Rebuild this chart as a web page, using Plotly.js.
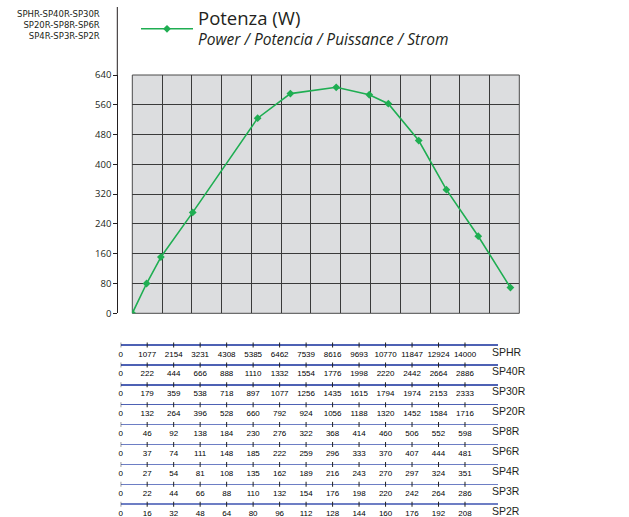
<!DOCTYPE html>
<html>
<head>
<meta charset="utf-8">
<script src="https://cdn.plot.ly/plotly-3.0.1.min.js"></script>
<style>html,body{margin:0;padding:0;background:#fff;}#chart{width:629px;height:517px;}</style>
</head>
<body>
<div id="chart"></div>
<script>
// ---- data ----
const models = ['SPHR','SP40R','SP30R','SP20R','SP8R','SP6R','SP4R','SP3R','SP2R'];
const sphr  = [0,1077,2154,3231,4308,5385,6462,7539,8616,9693,10770,11847,12924,14000];
const sp40r = [0,222,444,666,888,1110,1332,1554,1776,1998,2220,2442,2664,2886];
const sp30r = [0,179,359,538,718,897,1077,1256,1435,1615,1794,1974,2153,2333];
const sp20r = [0,132,264,396,528,660,792,924,1056,1188,1320,1452,1584,1716];
const sp8r  = [0,46,92,138,184,230,276,322,368,414,460,506,552,598];
const sp6r  = [0,37,74,111,148,185,222,259,296,333,370,407,444,481];
const sp4r  = [0,27,54,81,108,135,162,189,216,243,270,297,324,351];
const sp3r  = [0,22,44,66,88,110,132,154,176,198,220,242,264,286];
const sp2r  = [0,16,32,48,64,80,96,112,128,144,160,176,192,208];
// flow on the SPHR scale and power (W)
const flowSPHR = [0,517,1034,2186,4534,5719,7377,8573,9262,10361,11362,12515,13678];
const powerW   = [0,80,151,271,524,590,607,587,563,464,332,207,69];
const yTicks   = [0,80,160,240,320,400,480,560,640];
const legendMain = 'Potenza (W)';
const legendSub  = 'Power / Potencia / Puissance / Strom';
const modelGroups = ['SPHR-SP40R-SP30R','SP20R-SP8R-SP6R','SP4R-SP3R-SP2R'];

const scales = [sphr,sp40r,sp30r,sp20r,sp8r,sp6r,sp4r,sp3r,sp2r];

// ---- layout helpers ----
const W = 629, H = 517;
const px = v => v / W;
const py = v => 1 - v / H;
const FONT = 'Open Sans, Noto Sans, sans-serif';
const SCALEFONT = 'Liberation Sans, Arial, sans-serif';
const TXT = '#231f20';

const traces = [{
  x: flowSPHR, y: powerW, type: 'scatter', mode: 'lines+markers',
  name: '<span style="font-size:18.5px">' + legendMain + '</span><br><span style="font-size:15.5px"><i>' + legendSub + '</i></span>',
  line: {color: '#1fae52', width: 1.6},
  marker: {symbol: 'diamond', size: 6, color: '#1fae52'},
  xaxis: 'x', yaxis: 'y', hoverinfo: 'skip'
}];

const layout = {
  width: W, height: H,
  margin: {l: 0, r: 0, t: 0, b: 0},
  paper_bgcolor: '#fff', plot_bgcolor: 'rgba(0,0,0,0)',
  font: {family: FONT, color: TXT},
  showlegend: true,
  legend: {x: px(136), y: py(1.5), xanchor: 'left', yanchor: 'top',
           bgcolor: 'rgba(0,0,0,0)', font: {family: FONT, size: 16, color: TXT},
           itemwidth: 52, tracegroupgap: 0},
  xaxis: {domain: [px(132.3), px(519.3)], range: [0, 14000], anchor: 'y',
          tickmode: 'array', tickvals: sphr, showticklabels: false, ticks: '',
          showgrid: true, gridcolor: '#3a3a3a', gridwidth: 1, zeroline: false, showline: false},
  yaxis: {domain: [py(313.3), py(75)], range: [0, 640], anchor: 'free', position: px(117.3),
          tickmode: 'array', tickvals: yTicks, ticks: 'outside', ticklen: 4, tickcolor: TXT,
          showline: true, linecolor: TXT, linewidth: 1,
          showgrid: true, gridcolor: '#3a3a3a', gridwidth: 1, zeroline: false,
          tickfont: {family: FONT, size: 9.5, color: TXT}},
  shapes: [
    {type: 'rect', xref: 'x domain', yref: 'y domain', x0: 0, x1: 1, y0: 0, y1: 1,
     fillcolor: '#dcdddf', line: {color: '#4a4a4a', width: 1}, layer: 'below'},
    {type: 'line', xref: 'paper', yref: 'paper', x0: px(117.3), x1: px(117.3), y0: py(7), y1: py(75),
     line: {color: TXT, width: 1}}
  ],
  annotations: [
    {xref: 'paper', yref: 'paper', x: px(102), y: py(25), xanchor: 'right', yanchor: 'middle',
     align: 'right', showarrow: false, text: modelGroups.join('<br>'),
     font: {family: 'DejaVu Sans, sans-serif', size: 8.5, color: TXT}}
  ]
};

const rowTop = 345, rowGap = 19.9;
const lineLeft = 120.7, lineRight = 498.3, lastTick = 465;
scales.forEach((vals, i) => {
  const k = i + 2;
  const yLine = rowTop + rowGap * i;
  const max = vals[vals.length - 1];
  const rmax = max * (lineRight - lineLeft) / (lastTick - lineLeft);
  layout['xaxis' + k] = {
    domain: [px(lineLeft), px(lineRight)], range: [0, rmax], anchor: 'y' + k,
    tickmode: 'array', tickvals: vals, ticktext: vals.map(String),
    ticks: '', showgrid: false, zeroline: false, showline: false,
    tickfont: {family: SCALEFONT, size: 8, color: '#000'}
  };
  layout['yaxis' + k] = {
    domain: [py(yLine + 2.5), py(yLine - 2.5)], range: [-1, 1], anchor: 'x' + k,
    tickmode: 'array', tickvals: [0], showticklabels: false, ticks: '',
    showgrid: true, gridcolor: i < 4 ? '#4d61b4' : '#6d7ec4', gridwidth: 1.5, zeroline: false, showline: false
  };
  traces.push({
    x: vals, y: vals.map(() => 0), type: 'scatter', mode: 'markers',
    xaxis: 'x' + k, yaxis: 'y' + k, showlegend: false, hoverinfo: 'skip',
    marker: {symbol: 'line-ns-open', size: 7, color: '#222', line: {width: 1, color: '#222'}}
  });
  layout.annotations.push({
    xref: 'paper', yref: 'paper', x: px(490), y: py(yLine + 6.5), xanchor: 'left', yanchor: 'middle',
    showarrow: false, text: models[i],
    font: {family: SCALEFONT, size: 10.5, color: TXT}
  });
});

Plotly.newPlot('chart', traces, layout, {displayModeBar: false, staticPlot: true});
</script>
</body>
</html>
